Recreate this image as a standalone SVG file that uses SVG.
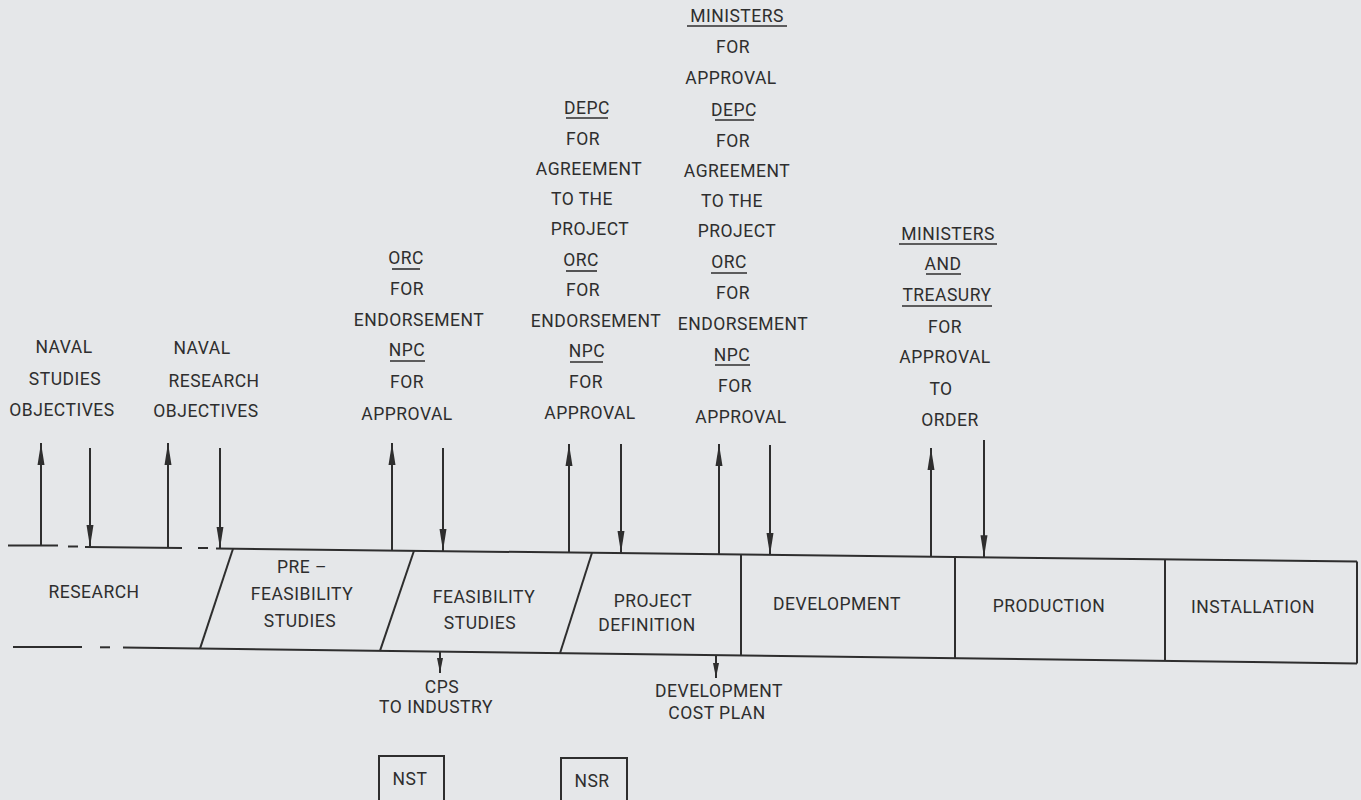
<svg xmlns="http://www.w3.org/2000/svg" width="1361" height="800" viewBox="0 0 1361 800">
<style>
.bg{fill:#e5e7e9}
.ln{stroke:#2e2e2e;stroke-width:2;fill:none;stroke-linecap:butt}
.ul{stroke:#2e2e2e;stroke-width:1.6;fill:none}
.ar{stroke:#2e2e2e;stroke-width:2;fill:none;marker-end:url(#head)}
.sa{stroke:#2e2e2e;stroke-width:2;fill:none;marker-end:url(#small)}
text{font-family:Roboto,"Liberation Sans",sans-serif;font-size:17.5px;fill:#2e2e2e;text-anchor:middle;letter-spacing:0.5px}
</style>
<defs>
<marker id="head" viewBox="0 -4 22 8" refX="22" refY="0" markerWidth="22" markerHeight="8" markerUnits="userSpaceOnUse" orient="auto">
<path d="M0,-3.5 L22,0 L0,3.5 Z" fill="#2e2e2e"/>
</marker>
<marker id="small" viewBox="0 -3 15 6" refX="15" refY="0" markerWidth="15" markerHeight="6" markerUnits="userSpaceOnUse" orient="auto">
<path d="M0,-3 L15,0 L0,3 Z" fill="#2e2e2e"/>
</marker>
</defs>
<rect class="bg" x="0" y="0" width="1361" height="800"/>

<g id="band">
<line class="ln" x1="8" y1="545.5" x2="58" y2="545.5"/>
<line class="ln" x1="68" y1="546.5" x2="78" y2="546.5"/>
<line class="ln" x1="85" y1="547" x2="182" y2="548"/>
<line class="ln" x1="198" y1="548" x2="208" y2="548"/>
<line class="ln" x1="216" y1="548.5" x2="1357" y2="561.6"/>
<line class="ln" x1="13" y1="647" x2="82" y2="647"/>
<line class="ln" x1="100" y1="647.3" x2="110" y2="647.3"/>
<line class="ln" x1="123" y1="647.6" x2="1357" y2="663.4"/>
</g>

<g id="research">
<text x="94" y="598">RESEARCH</text>
</g>
<g id="prefeasibility">
<line class="ln" x1="233" y1="548.7" x2="200" y2="648.6"/>
<text x="302" y="573">PRE –</text>
<text x="302" y="600">FEASIBILITY</text>
<text x="300" y="627">STUDIES</text>
</g>
<g id="feasibility">
<line class="ln" x1="414" y1="550.8" x2="380" y2="650.9"/>
<text x="484" y="603">FEASIBILITY</text>
<text x="480" y="629">STUDIES</text>
</g>
<g id="projectdefinition">
<line class="ln" x1="592" y1="552.8" x2="560" y2="653.2"/>
<text x="653" y="607">PROJECT</text>
<text x="647" y="631">DEFINITION</text>
</g>
<g id="development">
<line class="ln" x1="741" y1="554.5" x2="741" y2="655.5"/>
<text x="837" y="610">DEVELOPMENT</text>
</g>
<g id="production">
<line class="ln" x1="955" y1="557" x2="955" y2="658.2"/>
<text x="1049" y="612">PRODUCTION</text>
</g>
<g id="installation">
<line class="ln" x1="1165" y1="559.4" x2="1165" y2="660.9"/>
<line class="ln" x1="1357" y1="561.6" x2="1357" y2="663.4"/>
<text x="1253" y="613">INSTALLATION</text>
</g>

<g id="naval-studies">
<text x="64" y="353">NAVAL</text>
<text x="65" y="385">STUDIES</text>
<text x="62" y="416">OBJECTIVES</text>
</g>
<g id="naval-research">
<text x="202" y="354">NAVAL</text>
<text x="214" y="387">RESEARCH</text>
<text x="206" y="417">OBJECTIVES</text>
</g>
<g id="orc-npc-1">
<text x="406" y="264">ORC</text>
<line class="ul" x1="392" y1="269" x2="420" y2="269"/>
<text x="407" y="295">FOR</text>
<text x="419" y="326">ENDORSEMENT</text>
<text x="407" y="356">NPC</text>
<line class="ul" x1="390" y1="361" x2="425" y2="361"/>
<text x="407" y="388">FOR</text>
<text x="407" y="420">APPROVAL</text>
</g>
<g id="depc-1">
<text x="587" y="114">DEPC</text>
<line class="ul" x1="566" y1="118" x2="608" y2="118"/>
<text x="583" y="145">FOR</text>
<text x="589" y="175">AGREEMENT</text>
<text x="582" y="205">TO THE</text>
<text x="590" y="235">PROJECT</text>
<text x="581" y="266">ORC</text>
<line class="ul" x1="566" y1="271" x2="597" y2="271"/>
<text x="583" y="296">FOR</text>
<text x="596" y="327">ENDORSEMENT</text>
<text x="587" y="357">NPC</text>
<line class="ul" x1="570" y1="362" x2="603" y2="362"/>
<text x="586" y="388">FOR</text>
<text x="590" y="419">APPROVAL</text>
</g>
<g id="ministers-1">
<text x="737" y="22">MINISTERS</text>
<line class="ul" x1="687" y1="26" x2="787" y2="26"/>
<text x="733" y="53">FOR</text>
<text x="731" y="84">APPROVAL</text>
<text x="734" y="116">DEPC</text>
<line class="ul" x1="715" y1="120" x2="754" y2="120"/>
<text x="733" y="147">FOR</text>
<text x="737" y="177">AGREEMENT</text>
<text x="732" y="207">TO THE</text>
<text x="737" y="237">PROJECT</text>
<text x="729" y="268">ORC</text>
<line class="ul" x1="711" y1="273" x2="747" y2="273"/>
<text x="733" y="299">FOR</text>
<text x="743" y="330">ENDORSEMENT</text>
<text x="732" y="361">NPC</text>
<line class="ul" x1="715" y1="365" x2="750" y2="365"/>
<text x="735" y="392">FOR</text>
<text x="741" y="423">APPROVAL</text>
</g>
<g id="ministers-treasury">
<text x="948" y="240">MINISTERS</text>
<line class="ul" x1="899" y1="244" x2="997" y2="244"/>
<text x="943" y="270">AND</text>
<line class="ul" x1="926" y1="274" x2="961" y2="274"/>
<text x="947" y="301">TREASURY</text>
<line class="ul" x1="902" y1="306" x2="992" y2="306"/>
<text x="945" y="333">FOR</text>
<text x="945" y="363">APPROVAL</text>
<text x="941" y="395">TO</text>
<text x="950" y="426">ORDER</text>
</g>

<g id="cps">
<text x="442" y="693">CPS</text>
<text x="436" y="713">TO INDUSTRY</text>
</g>
<g id="dev-cost-plan">
<text x="719" y="697">DEVELOPMENT</text>
<text x="717" y="719">COST PLAN</text>
</g>
<g id="nst">
<rect class="ln" x="379" y="756" width="65" height="60"/>
<text x="410" y="785">NST</text>
</g>
<g id="nsr">
<rect class="ln" x="561" y="758" width="66" height="60"/>
<text x="592" y="787">NSR</text>
</g>

<g id="connectors">
<line class="ar" x1="41" y1="546" x2="41" y2="443"/>
<line class="ar" x1="90" y1="448" x2="90" y2="547"/>
<line class="ar" x1="168" y1="548" x2="168" y2="443"/>
<line class="ar" x1="220" y1="448" x2="220" y2="548.5"/>
<line class="ar" x1="392" y1="550.5" x2="392" y2="443"/>
<line class="ar" x1="443" y1="448" x2="443" y2="551"/>
<line class="ar" x1="569" y1="552.5" x2="569" y2="444"/>
<line class="ar" x1="621" y1="444" x2="621" y2="553"/>
<line class="ar" x1="719" y1="554.3" x2="719" y2="444"/>
<line class="ar" x1="770" y1="445" x2="770" y2="555"/>
<line class="ar" x1="931" y1="556.7" x2="931" y2="448"/>
<line class="ar" x1="984" y1="440" x2="984" y2="557.3"/>
<line class="sa" x1="440" y1="652" x2="440" y2="673"/>
<line class="sa" x1="716" y1="655.5" x2="716" y2="678"/>
</g>
</svg>
